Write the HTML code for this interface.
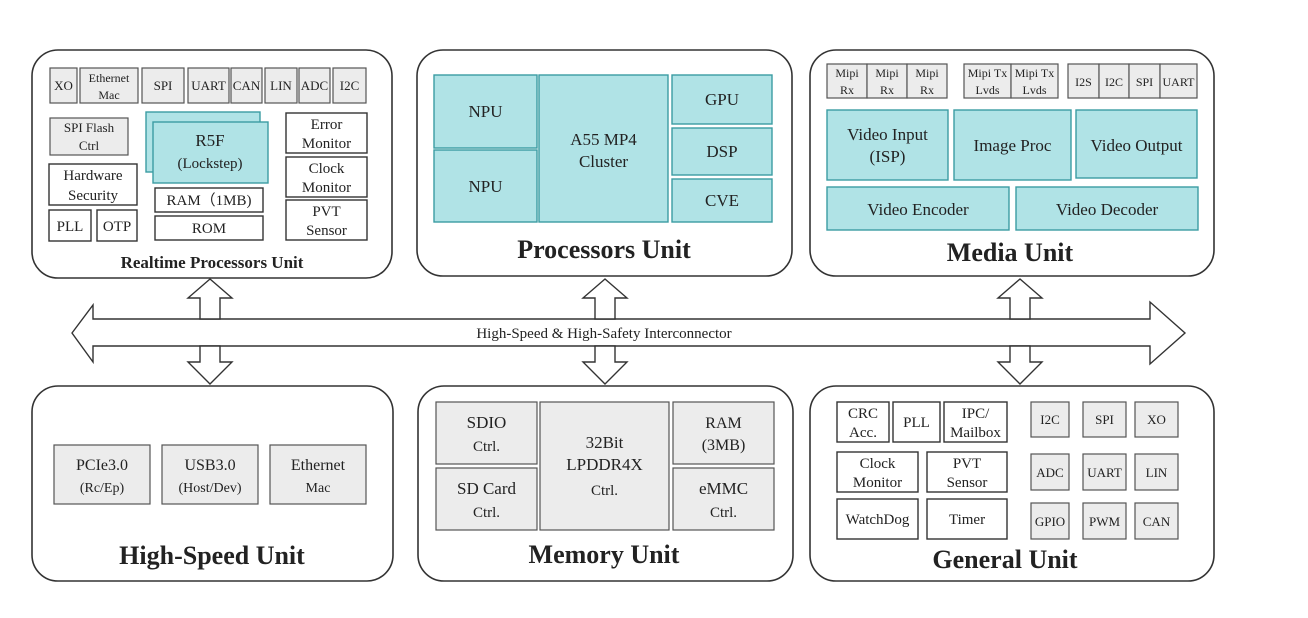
<!DOCTYPE html>
<html><head><meta charset="utf-8"><style>
html,body{margin:0;padding:0;background:#fff}
svg{display:block}
text{font-family:"Liberation Serif",serif;fill:#222}
.u{fill:#fff;stroke:#333;stroke-width:1.6}
.w{fill:#fff;stroke:#333;stroke-width:1.4}
.g{fill:#ececec;stroke:#555;stroke-width:1.2}
.t{fill:#b0e3e6;stroke:#3b9ca3;stroke-width:1.4}
.ti{font-weight:bold;font-size:26px}
</style></head><body>
<svg width="1308" height="618" viewBox="0 0 1308 618" xmlns="http://www.w3.org/2000/svg">
<!-- units -->
<rect class="u" x="32" y="50" width="360" height="228" rx="26"/>
<rect class="u" x="417" y="50" width="375" height="226" rx="26"/>
<rect class="u" x="810" y="50" width="404" height="226" rx="26"/>
<rect class="u" x="32" y="386" width="361" height="195" rx="26"/>
<rect class="u" x="418" y="386" width="375" height="195" rx="26"/>
<rect class="u" x="810" y="386" width="404" height="195" rx="26"/>

<!-- bus -->
<polygon class="w" points="72,333 93,305 93,319 1150,319 1150,302 1185,333 1150,364 1150,346 93,346 93,362"/>
<text x="604" y="338" font-size="15" text-anchor="middle">High-Speed &amp; High-Safety Interconnector</text>
<g class="w">
<polygon points="210,279 232,298 220,298 220,319 200,319 200,298 188,298"/>
<polygon points="200,346 220,346 220,362 232,362 210,384 188,362 200,362"/>
<polygon points="605,279 627,298 615,298 615,319 595,319 595,298 583,298"/>
<polygon points="595,346 615,346 615,362 627,362 605,384 583,362 595,362"/>
<polygon points="1020,279 1042,298 1030,298 1030,319 1010,319 1010,298 998,298"/>
<polygon points="1010,346 1030,346 1030,362 1042,362 1020,384 998,362 1010,362"/>
</g>

<!-- RPU -->
<g font-size="13" text-anchor="middle">
<rect class="g" x="50" y="68" width="27" height="35"/><text x="63.5" y="90">XO</text>
<rect class="g" x="80" y="68" width="58" height="35"/><text x="109" y="82" font-size="12">Ethernet</text><text x="109" y="99" font-size="12">Mac</text>
<rect class="g" x="142" y="68" width="42" height="35"/><text x="163" y="90">SPI</text>
<rect class="g" x="188" y="68" width="41" height="35"/><text x="208.5" y="90">UART</text>
<rect class="g" x="231" y="68" width="31" height="35"/><text x="246.5" y="90">CAN</text>
<rect class="g" x="265" y="68" width="32" height="35"/><text x="281" y="90">LIN</text>
<rect class="g" x="299" y="68" width="31" height="35"/><text x="314.5" y="90">ADC</text>
<rect class="g" x="333" y="68" width="33" height="35"/><text x="349.5" y="90">I2C</text>
<rect class="g" x="50" y="118" width="78" height="37"/><text x="89" y="132">SPI Flash</text><text x="89" y="150">Ctrl</text>
</g>
<g font-size="15" text-anchor="middle">
<rect class="w" x="49" y="164" width="88" height="41"/><text x="93" y="180">Hardware</text><text x="93" y="200">Security</text>
<rect class="w" x="49" y="210" width="42" height="31"/><text x="70" y="231">PLL</text>
<rect class="w" x="97" y="210" width="40" height="31"/><text x="117" y="231">OTP</text>
<rect class="t" x="146" y="112" width="114" height="60"/>
<rect class="t" x="153" y="122" width="115" height="61"/>
<text x="210" y="146" font-size="17">R5F</text><text x="210" y="168" font-size="15">(Lockstep)</text>
<rect class="w" x="155" y="188" width="108" height="24"/><text x="209" y="205">RAM（1MB)</text>
<rect class="w" x="155" y="216" width="108" height="24"/><text x="209" y="233">ROM</text>
<rect class="w" x="286" y="113" width="81" height="40"/><text x="326.5" y="129">Error</text><text x="326.5" y="148">Monitor</text>
<rect class="w" x="286" y="157" width="81" height="40"/><text x="326.5" y="173">Clock</text><text x="326.5" y="192">Monitor</text>
<rect class="w" x="286" y="200" width="81" height="40"/><text x="326.5" y="216">PVT</text><text x="326.5" y="235">Sensor</text>
</g>
<text x="212" y="268" font-size="17" font-weight="bold" text-anchor="middle">Realtime Processors Unit</text>

<!-- Processors -->
<g font-size="17" text-anchor="middle">
<rect class="t" x="434" y="75" width="103" height="73"/><text x="485.5" y="117">NPU</text>
<rect class="t" x="434" y="150" width="103" height="72"/><text x="485.5" y="192">NPU</text>
<rect class="t" x="539" y="75" width="129" height="147"/><text x="603.5" y="145">A55 MP4</text><text x="603.5" y="167">Cluster</text>
<rect class="t" x="672" y="75" width="100" height="49"/><text x="722" y="105">GPU</text>
<rect class="t" x="672" y="128" width="100" height="47"/><text x="722" y="157">DSP</text>
<rect class="t" x="672" y="179" width="100" height="43"/><text x="722" y="206">CVE</text>
</g>
<text x="604" y="258" class="ti" text-anchor="middle">Processors Unit</text>

<!-- Media -->
<g font-size="12" text-anchor="middle">
<rect class="g" x="827" y="64" width="40" height="34"/><text x="847" y="77">Mipi</text><text x="847" y="94">Rx</text>
<rect class="g" x="867" y="64" width="40" height="34"/><text x="887" y="77">Mipi</text><text x="887" y="94">Rx</text>
<rect class="g" x="907" y="64" width="40" height="34"/><text x="927" y="77">Mipi</text><text x="927" y="94">Rx</text>
<rect class="g" x="964" y="64" width="47" height="34"/><text x="987.5" y="77">Mipi Tx</text><text x="987.5" y="94">Lvds</text>
<rect class="g" x="1011" y="64" width="47" height="34"/><text x="1034.5" y="77">Mipi Tx</text><text x="1034.5" y="94">Lvds</text>
<rect class="g" x="1068" y="64" width="31" height="34"/><text x="1083.5" y="86">I2S</text>
<rect class="g" x="1099" y="64" width="30" height="34"/><text x="1114" y="86">I2C</text>
<rect class="g" x="1129" y="64" width="31" height="34"/><text x="1144.5" y="86">SPI</text>
<rect class="g" x="1160" y="64" width="37" height="34"/><text x="1178.5" y="86">UART</text>
</g>
<g font-size="17" text-anchor="middle">
<rect class="t" x="827" y="110" width="121" height="70"/><text x="887.5" y="140">Video Input</text><text x="887.5" y="162">(ISP)</text>
<rect class="t" x="954" y="110" width="117" height="70"/><text x="1012.5" y="151">Image Proc</text>
<rect class="t" x="1076" y="110" width="121" height="68"/><text x="1136.5" y="151">Video Output</text>
<rect class="t" x="827" y="187" width="182" height="43"/><text x="918" y="215">Video Encoder</text>
<rect class="t" x="1016" y="187" width="182" height="43"/><text x="1107" y="215">Video Decoder</text>
</g>
<text x="1010" y="261" class="ti" text-anchor="middle">Media Unit</text>

<!-- High-speed -->
<g font-size="16" text-anchor="middle">
<rect class="g" x="54" y="445" width="96" height="59"/><text x="102" y="470">PCIe3.0</text><text x="102" y="492" font-size="14">(Rc/Ep)</text>
<rect class="g" x="162" y="445" width="96" height="59"/><text x="210" y="470">USB3.0</text><text x="210" y="492" font-size="14">(Host/Dev)</text>
<rect class="g" x="270" y="445" width="96" height="59"/><text x="318" y="470">Ethernet</text><text x="318" y="492" font-size="14">Mac</text>
</g>
<text x="212" y="564" class="ti" text-anchor="middle">High-Speed Unit</text>

<!-- Memory -->
<g font-size="17" text-anchor="middle">
<rect class="g" x="436" y="402" width="101" height="62"/><text x="486.5" y="428">SDIO</text><text x="486.5" y="451" font-size="15">Ctrl.</text>
<rect class="g" x="436" y="468" width="101" height="62"/><text x="486.5" y="494">SD Card</text><text x="486.5" y="517" font-size="15">Ctrl.</text>
<rect class="g" x="540" y="402" width="129" height="128"/><text x="604.5" y="448">32Bit</text><text x="604.5" y="470">LPDDR4X</text><text x="604.5" y="495" font-size="15">Ctrl.</text>
<rect class="g" x="673" y="402" width="101" height="62"/><text x="723.5" y="428" font-size="16">RAM</text><text x="723.5" y="450" font-size="16">(3MB)</text>
<rect class="g" x="673" y="468" width="101" height="62"/><text x="723.5" y="494">eMMC</text><text x="723.5" y="517" font-size="15">Ctrl.</text>
</g>
<text x="604" y="563" class="ti" text-anchor="middle">Memory Unit</text>

<!-- General -->
<g font-size="15" text-anchor="middle">
<rect class="w" x="837" y="402" width="52" height="40"/><text x="863" y="418">CRC</text><text x="863" y="437">Acc.</text>
<rect class="w" x="893" y="402" width="47" height="40"/><text x="916.5" y="427">PLL</text>
<rect class="w" x="944" y="402" width="63" height="40"/><text x="975.5" y="418">IPC/</text><text x="975.5" y="437">Mailbox</text>
<rect class="w" x="837" y="452" width="81" height="40"/><text x="877.5" y="468">Clock</text><text x="877.5" y="487">Monitor</text>
<rect class="w" x="927" y="452" width="80" height="40"/><text x="967" y="468">PVT</text><text x="967" y="487">Sensor</text>
<rect class="w" x="837" y="499" width="81" height="40"/><text x="877.5" y="524">WatchDog</text>
<rect class="w" x="927" y="499" width="80" height="40"/><text x="967" y="524">Timer</text>
</g>
<g font-size="13" text-anchor="middle">
<rect class="g" x="1031" y="402" width="38" height="35"/><text x="1050" y="424">I2C</text>
<rect class="g" x="1083" y="402" width="43" height="35"/><text x="1104.5" y="424">SPI</text>
<rect class="g" x="1135" y="402" width="43" height="35"/><text x="1156.5" y="424">XO</text>
<rect class="g" x="1031" y="454" width="38" height="36"/><text x="1050" y="477">ADC</text>
<rect class="g" x="1083" y="454" width="43" height="36"/><text x="1104.5" y="477">UART</text>
<rect class="g" x="1135" y="454" width="43" height="36"/><text x="1156.5" y="477">LIN</text>
<rect class="g" x="1031" y="503" width="38" height="36"/><text x="1050" y="526">GPIO</text>
<rect class="g" x="1083" y="503" width="43" height="36"/><text x="1104.5" y="526">PWM</text>
<rect class="g" x="1135" y="503" width="43" height="36"/><text x="1156.5" y="526">CAN</text>
</g>
<text x="1005" y="568" class="ti" text-anchor="middle">General Unit</text>
</svg>
</body></html>
